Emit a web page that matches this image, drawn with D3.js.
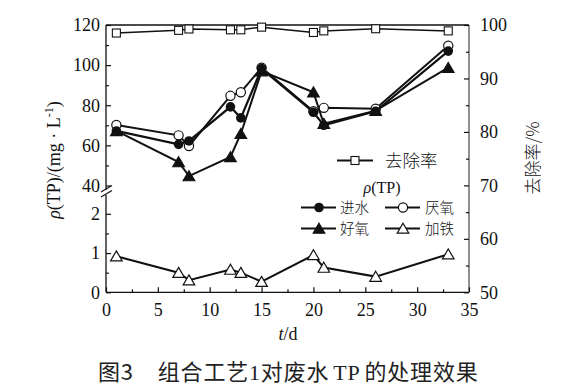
<!DOCTYPE html>
<html><head><meta charset="utf-8">
<script src="https://cdn.jsdelivr.net/npm/d3@7"></script>
<style>body{margin:0;background:#fff}</style>
</head><body><svg id="c" width="564" height="391"></svg>
<script>
const days = [1,7,8,12,13,15,20,21,26,33];
const removal = [98.5,99.0,99.25,99.1,99.1,99.6,98.6,98.9,99.3,98.9];
const influent = [67.2,60.5,62.2,79.2,73.7,98.3,76.5,70,77,107];
const anaerobic = [70.2,65,59.7,84.7,86.5,98.7,77,78.7,78.3,109.7];
const aerobic = [67.2,51.7,44.7,54.2,65.8,97,86.5,70.8,77.3,98.7];
const ironAdded = [0.92,0.5,0.31,0.58,0.5,0.27,0.95,0.63,0.4,0.97];
const xTicks = [0,5,10,15,20,25,30,35];
const yTopTicks = [40,60,80,100,120];
const yBotTicks = [0,1,2];
const yRightTicks = [50,60,70,80,90,100];

const svg = d3.select('#c');
const L=106,R=469,T=25,B=292.3;
const x = d3.scaleLinear().domain([0,35]).range([L,R]);
const yTop = d3.scaleLinear().domain([40,120]).range([185.5,T]);
const yBot = d3.scaleLinear().domain([0,2]).range([B,213.8]);
const yR = d3.scaleLinear().domain([50,100]).range([B,T]);
const serif = '"Liberation Serif","Times New Roman",serif';
const cjk = '"Noto Sans CJK SC",sans-serif';
const ink = '#111';

const g = svg.append('g');
g.append('line').attr('x1',L).attr('x2',R).attr('y1',T).attr('y2',T).attr('stroke',ink).attr('stroke-width',1.3);
g.append('line').attr('x1',L).attr('x2',R).attr('y1',B).attr('y2',B).attr('stroke',ink).attr('stroke-width',1.3);
g.append('line').attr('x1',R).attr('x2',R).attr('y1',T).attr('y2',B).attr('stroke','#555').attr('stroke-width',1.3);
g.append('line').attr('x1',L).attr('x2',L).attr('y1',T).attr('y2',190).attr('stroke',ink).attr('stroke-width',1.3);
g.append('line').attr('x1',L).attr('x2',L).attr('y1',195).attr('y2',B).attr('stroke',ink).attr('stroke-width',1.3);
[0,5].forEach(d=>{
  g.append('line').attr('x1',L-5).attr('y1',192+d).attr('x2',L+6).attr('y2',185.5+d).attr('stroke',ink).attr('stroke-width',1.2);
});

function styleAxis(sel){sel.attr('font-family',serif).attr('font-size',18);sel.select('.domain').remove();sel.selectAll('line').attr('stroke',ink).attr('stroke-width',1.2);sel.selectAll('text').attr('font-family',serif).attr('font-size',18).attr('fill',ink);}
function minor(sel){sel.select('.domain').remove();sel.selectAll('line').attr('stroke',ink).attr('stroke-width',1.2);}
const fmt = d3.format('d');
const xAx = g.append('g').attr('transform',`translate(0,${B})`).call(d3.axisBottom(x).tickValues(xTicks).tickFormat(fmt).tickSizeInner(-5).tickSizeOuter(0).tickPadding(11));
styleAxis(xAx);
g.append('g').attr('transform',`translate(0,${B})`).call(d3.axisBottom(x).tickValues(d3.range(2.5,35,5)).tickSize(-3).tickFormat('')).call(minor);
const yTA = g.append('g').attr('transform',`translate(${L},0)`).call(d3.axisLeft(yTop).tickValues(yTopTicks).tickFormat(fmt).tickSizeInner(-5).tickSizeOuter(0).tickPadding(6));
styleAxis(yTA);
g.append('g').attr('transform',`translate(${L},0)`).call(d3.axisLeft(yTop).tickValues([50,70,90,110]).tickSize(-3).tickFormat('')).call(minor);
const yBA = g.append('g').attr('transform',`translate(${L},0)`).call(d3.axisLeft(yBot).tickValues(yBotTicks).tickFormat(fmt).tickSizeInner(-5).tickSizeOuter(0).tickPadding(6));
styleAxis(yBA);
g.append('g').attr('transform',`translate(${L},0)`).call(d3.axisLeft(yBot).tickValues([0.5,1.5]).tickSize(-3).tickFormat('')).call(minor);
const yRA = g.append('g').attr('transform',`translate(${R},0)`).call(d3.axisRight(yR).tickValues(yRightTicks).tickFormat(fmt).tickSizeInner(-5).tickSizeOuter(0).tickPadding(11));
styleAxis(yRA);
g.append('g').attr('transform',`translate(${R},0)`).call(d3.axisRight(yR).tickValues(d3.range(55,100,10)).tickSize(-3).tickFormat('')).call(minor);

const xt = svg.append('text').attr('x',288).attr('y',340).attr('text-anchor','middle').attr('font-family',serif).attr('font-size',18).attr('fill',ink);
xt.append('tspan').attr('font-style','italic').text('t');
xt.append('tspan').text('/d');
const ylt = svg.append('text').attr('transform','translate(60,160) rotate(-90)').attr('text-anchor','middle').attr('font-family',serif).attr('font-size',18).attr('fill',ink);
ylt.append('tspan').attr('font-style','italic').text('ρ');
ylt.append('tspan').text('(TP)/(mg · L');
ylt.append('tspan').attr('font-size',12).attr('dy',-7).text('-1');
ylt.append('tspan').attr('dy',7).text(')');
svg.append('text').attr('transform','translate(539,158) rotate(-90)').attr('text-anchor','middle').attr('font-family',cjk).attr('font-size',17).attr('font-weight',300).attr('fill',ink).text('去除率/%');

function tri(sel,filled){sel.attr('d','M0,-5.3L5.8,4.7L-5.8,4.7Z').attr('fill',filled?ink:'#fff').attr('stroke',ink).attr('stroke-width',1.2);}
function drawSeries(vals, ys, kind, sw){
  const pts = days.map((d,i)=>[x(d),ys(vals[i])]);
  svg.append('path').attr('d',d3.line()(pts)).attr('fill','none').attr('stroke',ink).attr('stroke-width',sw);
  pts.forEach(p=>mark(p,kind));
}
function mark(p,kind){
  if(kind==='fc') svg.append('circle').attr('cx',p[0]).attr('cy',p[1]).attr('r',4.8).attr('fill',ink);
  else if(kind==='oc') svg.append('circle').attr('cx',p[0]).attr('cy',p[1]).attr('r',4.6).attr('fill','#fff').attr('stroke',ink).attr('stroke-width',1.2);
  else if(kind==='ft') svg.append('path').attr('transform',`translate(${p[0]},${p[1]})`).call(tri,true);
  else if(kind==='ot') svg.append('path').attr('transform',`translate(${p[0]},${p[1]})`).call(tri,false);
  else if(kind==='sq') svg.append('rect').attr('x',p[0]-4).attr('y',p[1]-4).attr('width',8).attr('height',8).attr('fill','#fff').attr('stroke',ink).attr('stroke-width',1.1);
}
drawSeries(aerobic,yTop,'ft',2);
drawSeries(anaerobic,yTop,'oc',2);
drawSeries(influent,yTop,'fc',2.2);
drawSeries(ironAdded,yBot,'ot',2);
drawSeries(removal,yR,'sq',1.5);

function legendItem(x1,x2,cx,cy,kind,label,tx,fs){
  svg.append('line').attr('x1',x1).attr('x2',x2).attr('y1',cy).attr('y2',cy).attr('stroke',ink).attr('stroke-width',2);
  mark([cx,cy],kind);
  svg.append('text').attr('x',tx).attr('y',cy).attr('dy','0.36em').attr('font-family',cjk).attr('font-size',fs).attr('font-weight',300).attr('fill',ink).text(label);
}
legendItem(337,373,355,160.5,'sq','去除率',385,17.5);
const lt = svg.append('text').attr('x',382).attr('y',187.5).attr('dy','0.35em').attr('text-anchor','middle').attr('font-family',serif).attr('font-size',16).attr('fill',ink);
lt.append('tspan').attr('font-style','italic').text('ρ');
lt.append('tspan').text('(TP)');
legendItem(301,336,319,207.5,'fc','进水',340,14.5);
legendItem(385,420,403,207.5,'oc','厌氧',425,14.5);
legendItem(301,336,319,228.5,'ft','好氧',340,14.5);
legendItem(385,420,403,228.5,'ot','加铁',425,14.5);

const cap = svg.append('text').attr('x',98).attr('y',372).attr('dy','0.36em').attr('font-family',cjk).attr('font-size',22).attr('font-weight',400).attr('letter-spacing',0.8).attr('fill','#222');
cap.append('tspan').text('图3');
cap.append('tspan').attr('dx',24).text('组合工艺');
cap.append('tspan').attr('font-family',serif).text('1');
cap.append('tspan').text('对废水');
cap.append('tspan').attr('dx',4).attr('font-family',serif).text('TP');
cap.append('tspan').attr('dx',4).text('的处理效果');
</script></body></html>
